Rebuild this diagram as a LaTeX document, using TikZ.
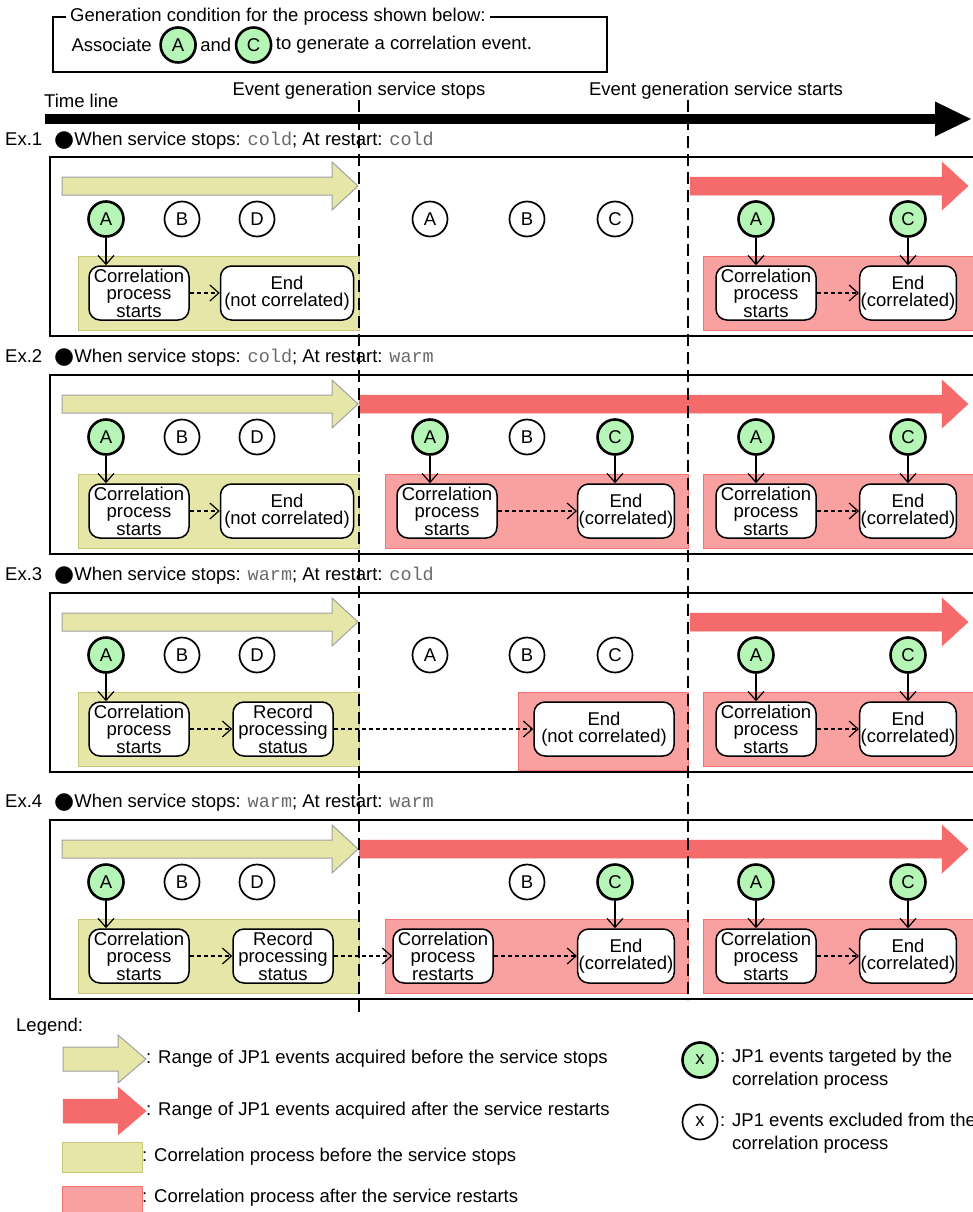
\documentclass[tikz,border=0pt]{standalone}
\usepackage{fontspec}
\setmainfont{Liberation Sans}
\setmonofont{Liberation Mono}
\newfontfamily\symbolfont{DejaVu Sans}
\usepackage{xcolor}
\usepackage{tikz}
\usetikzlibrary{arrows.meta,positioning}
\definecolor{yelfill}{HTML}{E6E6A9}
\definecolor{yelrim}{HTML}{A0A0A0}
\definecolor{oliverim}{HTML}{C8C878}
\definecolor{redfill}{HTML}{F56B6B}
\definecolor{pinkfill}{HTML}{F9A0A0}
\definecolor{pinkrim}{HTML}{F07474}
\definecolor{hitgreen}{HTML}{B5F5B5}
\definecolor{codegray}{HTML}{6A6A6A}

% fat range arrow: [style]{x from}{x to}{y}
\newcommand{\shafthalf}{9}
\newcommand{\headhalf}{24}
\newcommand{\headlen}{26}
\newcommand{\rangearrow}[4][yelarrow]{%
  \draw[#1] (#2,{#4-\shafthalf}) -- ({#3-\headlen},{#4-\shafthalf}) -- ({#3-\headlen},{#4-\headhalf})
    -- (#3,#4) -- ({#3-\headlen},{#4+\headhalf}) -- ({#3-\headlen},{#4+\shafthalf}) -- (#2,{#4+\shafthalf}) -- cycle;}
\newcommand{\cmode}[1]{{\ttfamily\color{codegray}#1}}
\newcommand{\blt}{{\symbolfont\fontsize{23}{17}\selectfont\raisebox{-1pt}{●}}}

\begin{document}
\begin{tikzpicture}[
  x=1pt, y=-1pt,
  font=\fontsize{18.5}{17.5}\selectfont,
  evt/.style={circle, draw, line width=1.7pt, fill=white, minimum size=35pt, inner sep=0pt},
  hit/.style={evt, fill=hitgreen, line width=2.6pt},
  stepbox/.style={draw, line width=1.5pt, rounded corners=11pt, fill=white, minimum width=100pt, minimum height=54pt, inner xsep=1pt, inner ysep=0.5pt, align=center},
  exbox/.style={draw, line width=1.6pt},
  before/.style={fill=yelfill, draw=oliverim, line width=1pt},
  after/.style={fill=pinkfill, draw=pinkrim, line width=1pt},
  yelarrow/.style={fill=yelfill, draw=yelrim, line width=1pt},
  redarrow/.style={fill=redfill, draw=redfill, line width=0.5pt},
  pick/.style={-{Straight Barb[length=9pt, width=16pt]}, line width=1.2pt},
  flow/.style={pick, dash pattern=on 4pt off 3pt},
  stopline/.style={line width=1.5pt, dash pattern=on 12pt off 6pt},
  note/.style={anchor=west, inner sep=0pt}
]
\useasboundingbox (0,0) rectangle (972,1212);

% generation condition
\draw[line width=2.6pt] (53,17) rectangle (607,72);
\node[anchor=west, fill=white, inner xsep=4pt] (cond) at (66,17) {Generation condition for the process shown below:};
\node[anchor=west] (assoc) at (68,45) {Associate};
\node[hit, right=4pt of assoc] (condA) {A};
\node[right=0pt of condA] (andw) {and};
\node[hit, right=0pt of andw] (condC) {C};
\node[right=0pt of condC] (goal) {to generate a correlation event.};

% time line
\node[note] (tl) at (44,101) {Time line};
\node (stoptxt) at (359,91) {Event generation service stops};
\node (starttxt) at (716,91) {Event generation service starts};
\coordinate (tl0) at (45,119);
\coordinate (tl1) at (972,119);
\draw[line width=10pt, -{Triangle[length=37pt, width=32pt]}] (tl0) -- (tl1);

% Ex.1
\node[note] (ex1) at (5,141) {Ex.1\hspace{12pt}\blt When service stops: \cmode{cold}; At restart: \cmode{cold}};
\draw[exbox] (50,157) rectangle (995,336);
\draw[before] (78,256) rectangle (359,330);
\draw[after] (703,256) rectangle (995,330);
\rangearrow{62}{358}{186}
\rangearrow[redarrow]{690}{968}{186}
\node[hit] (e1a) at (106,219) {A};
\node[evt] (e1b) at (182,219) {B};
\node[evt] (e1d) at (257,219) {D};
\node[evt] (e1a2) at (430,219) {A};
\node[evt] (e1b2) at (527,219) {B};
\node[evt] (e1c2) at (615,219) {C};
\node[hit] (e1a3) at (756,219) {A};
\node[hit] (e1c3) at (908,219) {C};
\node[stepbox] (go1) at (139,293) {Correlation\\process\\starts};
\node[stepbox, minimum width=133pt] (end1) at (287,293) {End\\(not correlated)};
\node[stepbox] (go1r) at (766,293) {Correlation\\process\\starts};
\node[stepbox, minimum width=95pt] (end1r) at (908,293) {End\\(correlated)};
\draw[pick] (e1a) -- (e1a |- go1.north);
\draw[flow] (go1) -- (end1);
\draw[pick] (e1a3) -- (e1a3 |- go1r.north);
\draw[pick] (e1c3) -- (e1c3 |- end1r.north);
\draw[flow] (go1r) -- (end1r);

% Ex.2
\node[note] (ex2) at (5,358) {Ex.2\hspace{12pt}\blt When service stops: \cmode{cold}; At restart: \cmode{warm}};
\draw[exbox] (50,375) rectangle (995,554);
\draw[before] (78,474) rectangle (359,548);
\draw[after] (385,474) rectangle (688,548);
\draw[after] (703,474) rectangle (995,548);
\rangearrow{62}{358}{404}
\rangearrow[redarrow]{359}{968}{404}
\node[hit] (e2a) at (106,437) {A};
\node[evt] (e2b) at (182,437) {B};
\node[evt] (e2d) at (257,437) {D};
\node[hit] (e2a2) at (430,437) {A};
\node[evt] (e2b2) at (527,437) {B};
\node[hit] (e2c2) at (615,437) {C};
\node[hit] (e2a3) at (756,437) {A};
\node[hit] (e2c3) at (908,437) {C};
\node[stepbox] (go2) at (139,511) {Correlation\\process\\starts};
\node[stepbox, minimum width=133pt] (end2) at (287,511) {End\\(not correlated)};
\node[stepbox] (go2m) at (447,511) {Correlation\\process\\starts};
\node[stepbox, minimum width=92pt] (end2m) at (626,511) {End\\(correlated)};
\node[stepbox] (go2r) at (766,511) {Correlation\\process\\starts};
\node[stepbox, minimum width=95pt] (end2r) at (908,511) {End\\(correlated)};
\draw[pick] (e2a) -- (e2a |- go2.north);
\draw[flow] (go2) -- (end2);
\draw[pick] (e2a2) -- (e2a2 |- go2m.north);
\draw[pick] (e2c2) -- (e2c2 |- end2m.north);
\draw[flow] (go2m) -- (end2m);
\draw[pick] (e2a3) -- (e2a3 |- go2r.north);
\draw[pick] (e2c3) -- (e2c3 |- end2r.north);
\draw[flow] (go2r) -- (end2r);

% Ex.3
\node[note] (ex3) at (5,576) {Ex.3\hspace{12pt}\blt When service stops: \cmode{warm}; At restart: \cmode{cold}};
\draw[exbox] (50,593) rectangle (995,772);
\draw[before] (78,692) rectangle (359,766);
\draw[after] (518,692) rectangle (688,770);
\draw[after] (703,692) rectangle (995,766);
\rangearrow{62}{358}{622}
\rangearrow[redarrow]{690}{968}{622}
\node[hit] (e3a) at (106,655) {A};
\node[evt] (e3b) at (182,655) {B};
\node[evt] (e3d) at (257,655) {D};
\node[evt] (e3a2) at (430,655) {A};
\node[evt] (e3b2) at (527,655) {B};
\node[evt] (e3c2) at (615,655) {C};
\node[hit] (e3a3) at (756,655) {A};
\node[hit] (e3c3) at (908,655) {C};
\node[stepbox] (go3) at (139,729) {Correlation\\process\\starts};
\node[stepbox] (rec3) at (283,729) {Record\\processing\\status};
\node[stepbox, minimum width=140pt] (end3m) at (604,729) {End\\(not correlated)};
\node[stepbox] (go3r) at (766,729) {Correlation\\process\\starts};
\node[stepbox, minimum width=95pt] (end3r) at (908,729) {End\\(correlated)};
\draw[pick] (e3a) -- (e3a |- go3.north);
\draw[flow] (go3) -- (rec3);
\draw[flow] (rec3) -- (end3m);
\draw[pick] (e3a3) -- (e3a3 |- go3r.north);
\draw[pick] (e3c3) -- (e3c3 |- end3r.north);
\draw[flow] (go3r) -- (end3r);

% Ex.4
\node[note] (ex4) at (5,803) {Ex.4\hspace{12pt}\blt When service stops: \cmode{warm}; At restart: \cmode{warm}};
\draw[exbox] (50,820) rectangle (995,999);
\draw[before] (78,919) rectangle (359,993);
\draw[after] (385,919) rectangle (688,993);
\draw[after] (703,919) rectangle (995,993);
\rangearrow{62}{358}{849}
\rangearrow[redarrow]{359}{968}{849}
\node[hit] (e4a) at (106,882) {A};
\node[evt] (e4b) at (182,882) {B};
\node[evt] (e4d) at (257,882) {D};
\node[evt] (e4b2) at (527,882) {B};
\node[hit] (e4c2) at (615,882) {C};
\node[hit] (e4a3) at (756,882) {A};
\node[hit] (e4c3) at (908,882) {C};
\node[stepbox] (go4) at (139,956) {Correlation\\process\\starts};
\node[stepbox] (rec4) at (283,956) {Record\\processing\\status};
\node[stepbox] (re4m) at (443,956) {Correlation\\process\\restarts};
\node[stepbox, minimum width=92pt] (end4m) at (626,956) {End\\(correlated)};
\node[stepbox] (go4r) at (766,956) {Correlation\\process\\starts};
\node[stepbox, minimum width=95pt] (end4r) at (908,956) {End\\(correlated)};
\draw[pick] (e4a) -- (e4a |- go4.north);
\draw[flow] (go4) -- (rec4);
\draw[flow] (rec4) -- (re4m);
\draw[flow] (re4m) -- (end4m);
\draw[pick] (e4c2) -- (e4c2 |- end4m.north);
\draw[pick] (e4a3) -- (e4a3 |- go4r.north);
\draw[pick] (e4c3) -- (e4c3 |- end4r.north);
\draw[flow] (go4r) -- (end4r);

% service stop / start marks
\coordinate (stoptop) at (359,100);
\coordinate (stopbot) at (359,1012);
\coordinate (starttop) at (688,100);
\coordinate (startbot) at (688,1000);
\draw[stopline] (stoptop) -- (stopbot);
\draw[stopline] (starttop) -- (startbot);

% legend
\node[note] (leg) at (16,1027) {Legend:};
\renewcommand{\shafthalf}{12}
\renewcommand{\headhalf}{24}
\renewcommand{\headlen}{28}
\rangearrow{63}{146}{1059}
\node[note] (legpre) at (146,1059) {: Range of JP1 events acquired before the service stops};
\rangearrow[redarrow]{63}{146}{1111}
\node[note] (legpost) at (146,1111) {: Range of JP1 events acquired after the service restarts};
\draw[before] (62,1142) rectangle (142,1172);
\node[note] (legbefore) at (142,1157) {: Correlation process before the service stops};
\draw[after] (62,1186) rectangle (142,1220);
\node[note] (legafter) at (142,1198) {: Correlation process after the service restarts};
\node[hit] (leghit) at (700,1060) {x};
\node[note, align=left, font=\fontsize{18.5}{23}\selectfont] (leghittxt) at (720,1069) {: JP1 events targeted by the\\\phantom{: }correlation process};
\node[evt] (legevt) at (700,1122) {x};
\node[note, align=left, font=\fontsize{18.5}{23}\selectfont] (legevttxt) at (720,1133) {: JP1 events excluded from the\\\phantom{: }correlation process};
\end{tikzpicture}
\end{document}
